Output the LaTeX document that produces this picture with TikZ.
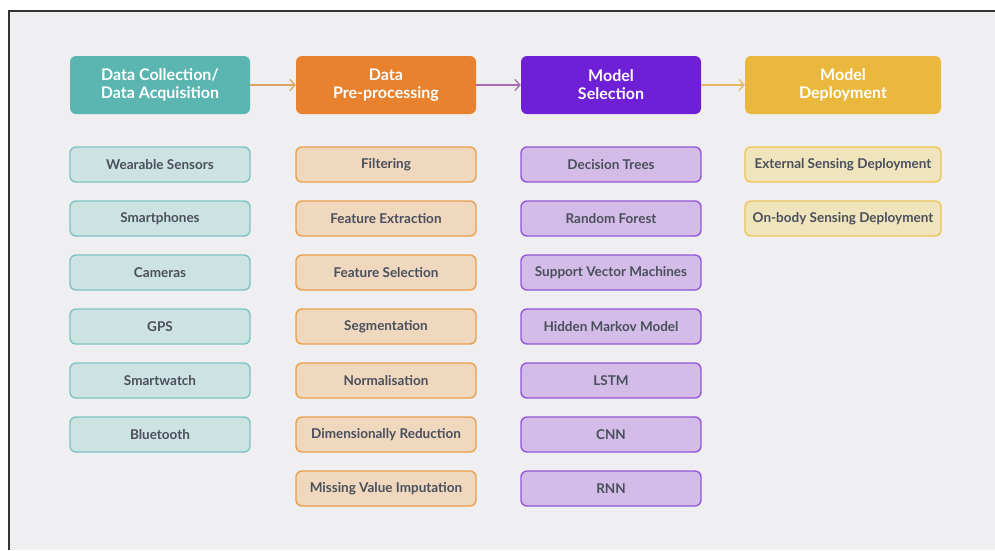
\documentclass[tikz,border=0pt]{standalone}
\usepackage{fontspec}
\setmainfont{Lato}
\usetikzlibrary{arrows.meta}

\definecolor{pagebg}{HTML}{EFEFF1}
\definecolor{txtgrey}{HTML}{4A4F5C}
\definecolor{tealH}{HTML}{5BB5B0}
\definecolor{tealF}{HTML}{CDE3E2}
\definecolor{tealD}{HTML}{7CC4C1}
\definecolor{orngH}{HTML}{E8822F}
\definecolor{orngF}{HTML}{EFD8BD}
\definecolor{orngD}{HTML}{E8A04E}
\definecolor{purpH}{HTML}{6F1FD6}
\definecolor{purpF}{HTML}{D3BDE8}
\definecolor{purpD}{HTML}{9457DA}
\definecolor{yellH}{HTML}{EBB83E}
\definecolor{yellF}{HTML}{F0E4BD}
\definecolor{yellD}{HTML}{EDC455}

\tikzset{
  head/.style={rounded corners=6pt,minimum width=180pt,minimum height=58pt,
    align=center,text=white,font=\fontsize{16}{18}\selectfont\bfseries,inner sep=0pt},
  item/.style={rounded corners=6pt,minimum width=180pt,minimum height=35pt,
    line width=1.4pt,text=txtgrey,font=\fontsize{13.5}{15}\selectfont\bfseries,inner sep=0pt},
  flow/.style={line width=1.3pt,-{Straight Barb[length=5pt,width=11pt]}}
}

\begin{document}
\begin{tikzpicture}[x=1pt,y=-1pt]
\useasboundingbox (0,0) rectangle (995,550);
\fill[pagebg] (9,11) rectangle (995,550);
\draw[line width=2pt,black!80] (9,550) -- (9,11) -- (995,11);

% headers
\node[head,fill=tealH] (collect) at (160,85) {Data Collection/\\Data Acquisition};
\node[head,fill=orngH] (prep) at (386,85) {Data\\Pre-processing};
\node[head,fill=purpH] (model) at (611,85) {Model\\Selection};
\node[head,fill=yellH,minimum width=196pt] (deploy) at (843,85) {Model\\Deployment};

\draw[flow,draw=orngD!85!tealD] (collect) -- (prep);
\draw[flow,draw=purpD!75!orngD] (prep) -- (model);
\draw[flow,draw=yellD!90!purpD] (model) -- (deploy);

% lists
\foreach \txt [count=\i] in {Wearable Sensors,Smartphones,Cameras,GPS,Smartwatch,Bluetooth}
  \node[item,fill=tealF,draw=tealD] (collect\i) at (160,164.5+54*\i-54) {\txt};
\foreach \txt [count=\i] in {Filtering,Feature Extraction,Feature Selection,Segmentation,
    Normalisation,Dimensionally Reduction,Missing Value Imputation}
  \node[item,fill=orngF,draw=orngD] (prep\i) at (386,164.5+54*\i-54) {\txt};
\foreach \txt [count=\i] in {Decision Trees,Random Forest,Support Vector Machines,
    Hidden Markov Model,LSTM,CNN,RNN}
  \node[item,fill=purpF,draw=purpD] (model\i) at (611,164.5+54*\i-54) {\txt};
\foreach \txt [count=\i] in {External Sensing Deployment,On-body Sensing Deployment}
  \node[item,fill=yellF,draw=yellD,minimum width=196pt] (deploy\i) at (843,164.5+54*\i-54) {\txt};
\end{tikzpicture}
\end{document}
